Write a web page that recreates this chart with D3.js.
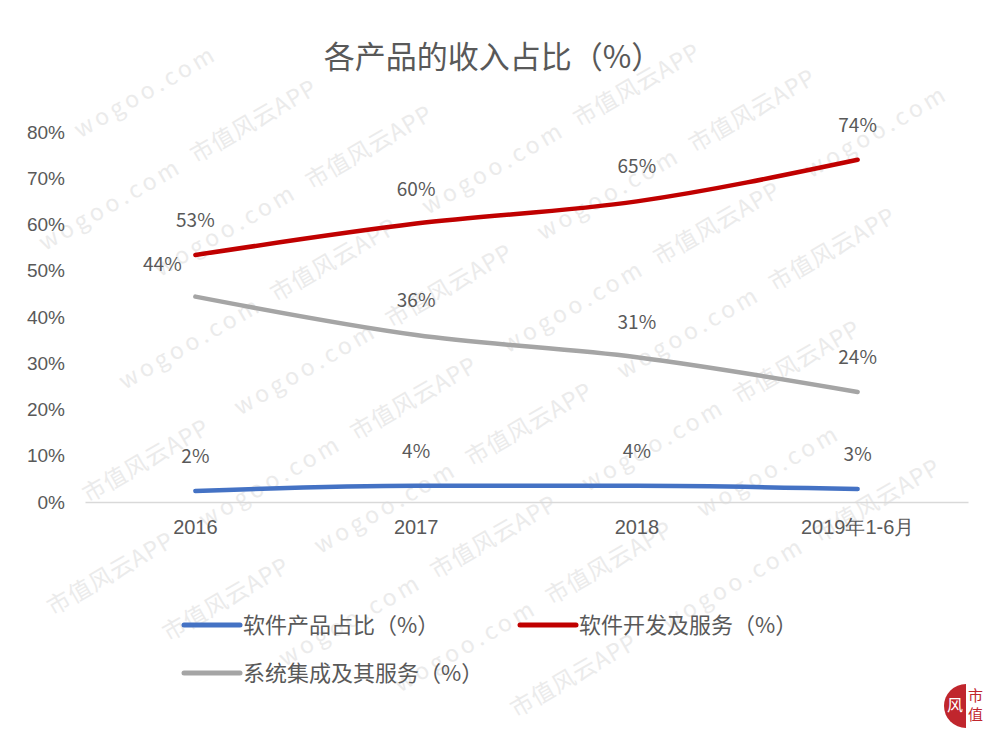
<!DOCTYPE html>
<html>
<head>
<meta charset="utf-8">
<script src="https://cdn.jsdelivr.net/npm/d3@7"></script>
<style>
  body { margin: 0; background: #fff; }
  svg { display: block; font-family: "Noto Sans CJK SC", "Noto Sans", sans-serif; }
</style>
</head>
<body>
<script>
// data
var years = ["2016", "2017", "2018", "2019年1-6月"];
var softProduct = [2.4, 3.5, 3.5, 2.8];
var softService = [53.4, 60.2, 65.0, 74.0];
var sysIntegration = [44.4, 36.1, 31.3, 23.8];
var productLabels = ["2%", "4%", "4%", "3%"];
var serviceLabels = ["53%", "60%", "65%", "74%"];
var integrationLabels = ["44%", "36%", "31%", "24%"];
var yTicks = [0, 10, 20, 30, 40, 50, 60, 70, 80];

var width = 1000, height = 736;
var margin = {top: 132, right: 32, bottom: 234, left: 85};

var svg = d3.select("body").append("svg")
    .attr("width", width)
    .attr("height", height);

// watermark layer, rotated grid
var wm = svg.append("g").attr("fill", "#ebebeb").attr("transform", "rotate(-30)");
var words = ["wogoo.com", "市值风云APP"];
for (var r = -2; r < 12; r++) {
    for (var c = -4; c < 8; c++) {
        var u = c * 175 + (r % 2) * 88;
        var v = r * 80;
        // keep only those that land inside the picture
        var a = -30 * Math.PI / 180;
        var px = u * Math.cos(a) - v * Math.sin(a);
        var py = u * Math.sin(a) + v * Math.cos(a);
        if (px < 25 || px > 840 || py < 120 || py > 725) continue;
        var w = words[(c + r + 100) % 2];
        wm.append("text")
            .attr("x", u)
            .attr("y", v)
            .attr("font-size", 23)
            .attr("letter-spacing", w == "wogoo.com" ? 4 : 1)
            .text(w);
    }
}

var x = d3.scaleBand()
    .domain(years)
    .range([margin.left, width - margin.right]);

var y = d3.scaleLinear()
    .domain([0, 80])
    .range([height - margin.bottom, margin.top]);

// title
svg.append("text")
    .attr("x", 493)
    .attr("y", 68)
    .attr("text-anchor", "middle")
    .attr("font-size", 31)
    .attr("fill", "#595959")
    .text("各产品的收入占比（%）");

// y axis labels
var yAxis = svg.append("g")
    .attr("transform", "translate(" + (margin.left - 20) + ",0)")
    .call(d3.axisLeft(y).tickValues(yTicks).tickSize(0).tickPadding(0).tickFormat(function(d) { return d + "%"; }));
yAxis.select(".domain").remove();
yAxis.selectAll("text")
    .attr("font-size", 19)
    .attr("fill", "#595959");

// x axis
var xAxis = svg.append("g")
    .attr("transform", "translate(0," + y(0) + ")")
    .call(d3.axisBottom(x).tickSize(0).tickPadding(18));
xAxis.select(".domain").attr("stroke", "#d9d9d9").attr("stroke-width", 1.3);
xAxis.selectAll("text")
    .attr("font-size", 20)
    .attr("fill", "#595959");

var cx = function(i) { return x(years[i]) + x.bandwidth() / 2; };

var line = d3.line()
    .x(function(d, i) { return cx(i); })
    .y(function(d) { return y(d); })
    .curve(d3.curveMonotoneX);

var series = [
    {name: "软件产品占比（%）", values: softProduct, labels: productLabels, color: "#4472C4"},
    {name: "软件开发及服务（%）", values: softService, labels: serviceLabels, color: "#C00000"},
    {name: "系统集成及其服务（%）", values: sysIntegration, labels: integrationLabels, color: "#A5A5A5"}
];

series.forEach(function(s) {
    svg.append("path")
        .datum(s.values)
        .attr("fill", "none")
        .attr("stroke", s.color)
        .attr("stroke-width", 4.5)
        .attr("stroke-linecap", "round")
        .attr("d", line);

    svg.selectAll(null)
        .data(s.values)
        .enter().append("text")
        .attr("x", function(d, i) { return (s.color == "#A5A5A5" && i == 0) ? cx(i) - 33 : cx(i); })
        .attr("y", function(d, i) { return (s.color == "#A5A5A5" && i == 0) ? y(d) - 26 : y(d) - 28; })
        .attr("text-anchor", "middle")
        .attr("font-size", 19)
        .attr("fill", "#595959")
        .text(function(d, i) { return s.labels[i]; });
});

// legend
var legendPos = [[182, 625], [518, 625], [182, 673]];
series.forEach(function(s, i) {
    var g = svg.append("g").attr("transform", "translate(" + legendPos[i][0] + "," + legendPos[i][1] + ")");
    g.append("line")
        .attr("x1", 2).attr("x2", 58)
        .attr("stroke", s.color)
        .attr("stroke-width", 5)
        .attr("stroke-linecap", "round");
    g.append("text")
        .attr("x", 61)
        .attr("y", 8)
        .attr("font-size", 22)
        .attr("fill", "#595959")
        .text(s.name);
});

// logo bottom right
var logo = svg.append("g").attr("transform", "translate(966,706)");
logo.append("path")
    .attr("d", d3.arc()({innerRadius: 0, outerRadius: 22, startAngle: Math.PI, endAngle: 2 * Math.PI}))
    .attr("fill", "#c0262d");
logo.append("text").attr("x", -11).attr("y", 5).attr("font-size", 16).attr("fill", "#fff").attr("text-anchor", "middle").text("风");
logo.append("text").attr("x", 2).attr("y", -5).attr("font-size", 15).attr("fill", "#c0262d").text("市");
logo.append("text").attr("x", 2).attr("y", 14).attr("font-size", 15).attr("fill", "#c0262d").text("值");
</script>
</body>
</html>
